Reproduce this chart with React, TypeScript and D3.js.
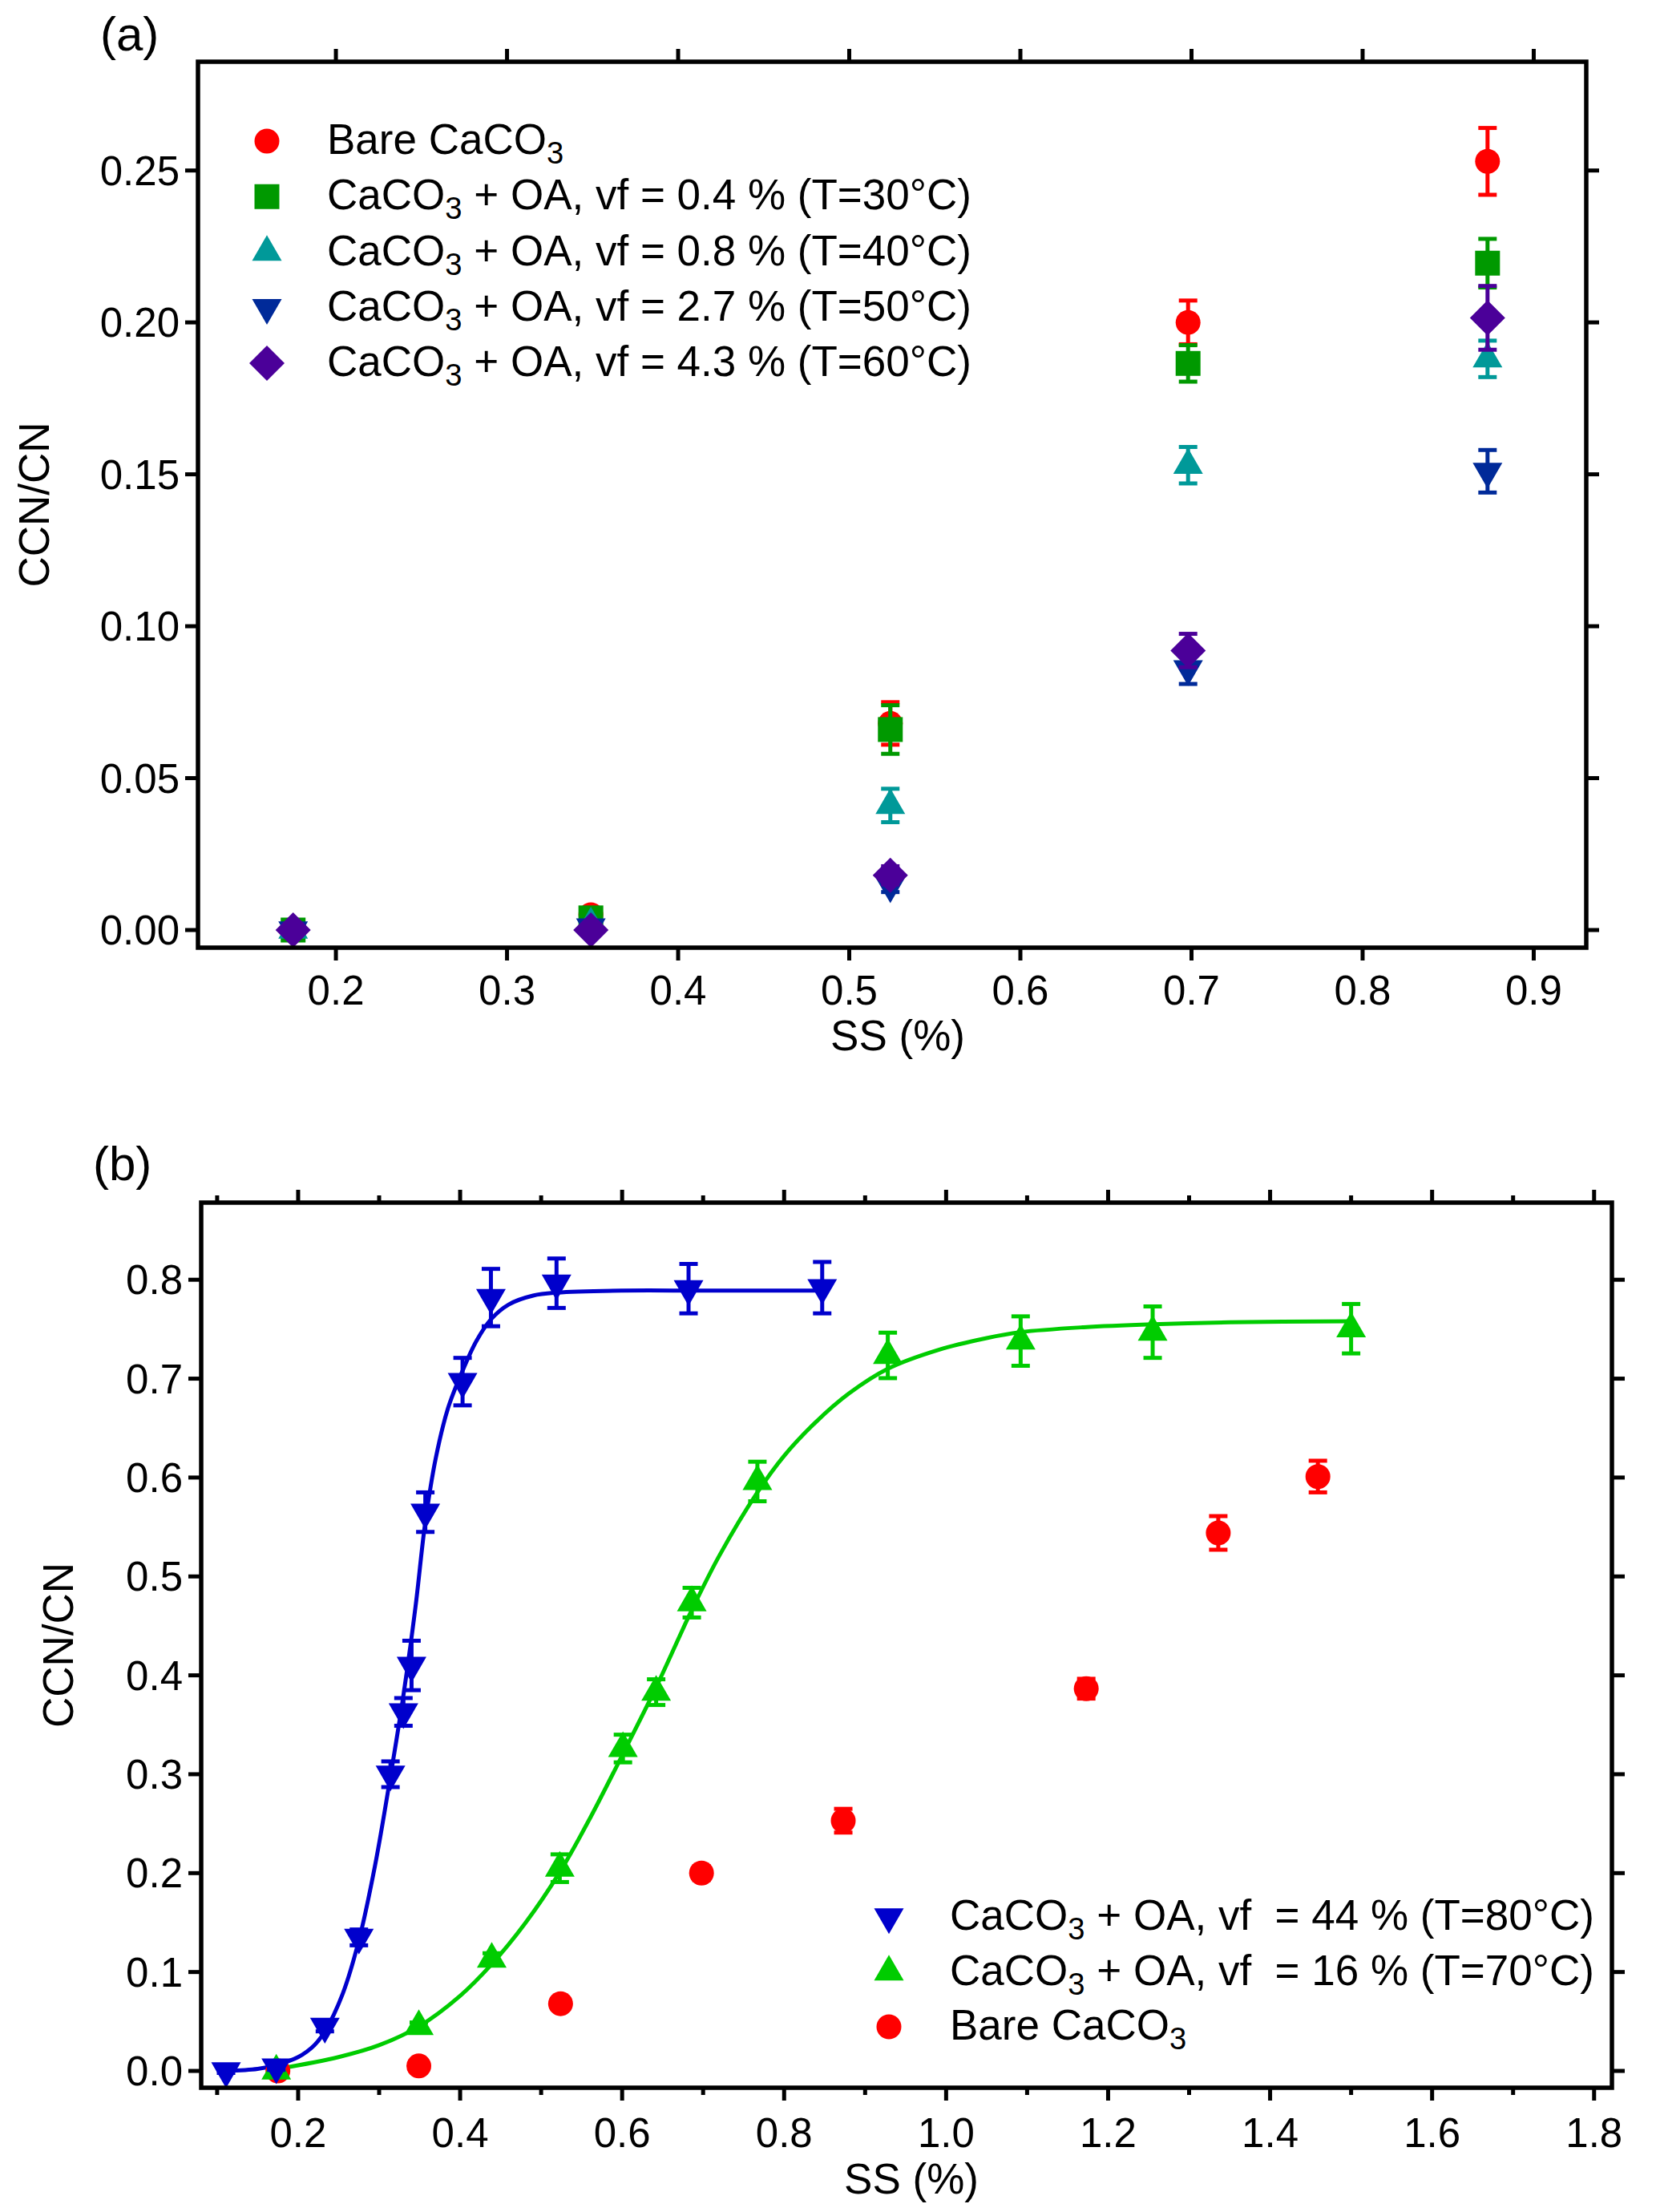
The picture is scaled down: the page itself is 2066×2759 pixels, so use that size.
import React from "react";
import * as d3 from "d3";

// ---------- Panel (a) data ----------
const ssA = [0.175, 0.349, 0.524, 0.698, 0.873];
const bareA = [0.0, 0.005, 0.068, 0.2, 0.253];
const bareAErr = [0.001, 0.001, 0.007, 0.0072, 0.011];
const oa04 = [0.0, 0.004, 0.066, 0.1865, 0.2195];
const oa04Err = [0.001, 0.001, 0.008, 0.006, 0.008];
const oa08 = [0.0, 0.002, 0.041, 0.153, 0.188];
const oa08Err = [0.001, 0.001, 0.0055, 0.006, 0.006];
const oa27 = [0.0, 0.001, 0.0145, 0.086, 0.151];
const oa27Err = [0.001, 0.001, 0.002, 0.005, 0.007];
const oa43 = [0.0, 0.0, 0.018, 0.092, 0.2015];
const oa43Err = [0.001, 0.001, 0.003, 0.0055, 0.0105];

const xTicksA = [0.2, 0.3, 0.4, 0.5, 0.6, 0.7, 0.8, 0.9];
const yTicksA = [0.0, 0.05, 0.1, 0.15, 0.2, 0.25];

// ---------- Panel (b) data ----------
const ss44 = [0.111, 0.173, 0.233, 0.275, 0.314, 0.33, 0.34, 0.357, 0.403, 0.438, 0.519, 0.682, 0.847];
const oa44 = [0.0, 0.004, 0.045, 0.135, 0.3, 0.363, 0.41, 0.565, 0.697, 0.782, 0.7965, 0.791, 0.792];
const oa44Err = [0.002, 0.003, 0.005, 0.008, 0.013, 0.014, 0.025, 0.02, 0.024, 0.029, 0.025, 0.025, 0.026];

const ss16 = [0.173, 0.349, 0.439, 0.523, 0.601, 0.642, 0.686, 0.767, 0.928, 1.092, 1.255, 1.5];
const oa16 = [0.0, 0.045, 0.113, 0.205, 0.326, 0.383, 0.4735, 0.596, 0.7235, 0.738, 0.747, 0.7505];
const oa16Err = [0.002, 0.004, 0.006, 0.014, 0.014, 0.013, 0.015, 0.02, 0.023, 0.025, 0.026, 0.025];

const ssBareB = [0.175, 0.349, 0.524, 0.698, 0.873, 1.173, 1.336, 1.459];
const bareB = [0.0, 0.005, 0.068, 0.2, 0.253, 0.3865, 0.544, 0.601];
const bareBErr = [0.001, 0.001, 0.004, 0.007, 0.012, 0.01, 0.017, 0.016];

// fitted curves
const fit44X = [0.111, 0.15, 0.173, 0.2, 0.22, 0.233, 0.255, 0.275, 0.295, 0.314, 0.33, 0.345, 0.357, 0.37, 0.385, 0.403, 0.42, 0.438, 0.46, 0.49, 0.52, 0.6, 0.7, 0.847];
const fit44Y = [0.0, 0.002, 0.006, 0.014, 0.026, 0.04, 0.078, 0.132, 0.208, 0.298, 0.38, 0.47, 0.555, 0.62, 0.67, 0.708, 0.738, 0.76, 0.775, 0.784, 0.787, 0.789, 0.789, 0.789];
const fit16X = [0.175, 0.25, 0.3, 0.349, 0.4, 0.439, 0.48, 0.523, 0.56, 0.6, 0.642, 0.686, 0.72, 0.767, 0.8, 0.839, 0.88, 0.928, 0.99, 1.05, 1.092, 1.17, 1.255, 1.35, 1.5];
const fit16Y = [0.002, 0.014, 0.026, 0.045, 0.076, 0.108, 0.149, 0.201, 0.255, 0.319, 0.388, 0.466, 0.521, 0.585, 0.622, 0.656, 0.685, 0.71, 0.729, 0.741, 0.747, 0.752, 0.755, 0.757, 0.758];

const xTicksB = [0.2, 0.4, 0.6, 0.8, 1.0, 1.2, 1.4, 1.6, 1.8];
const xMinorB = [0.1, 0.3, 0.5, 0.7, 0.9, 1.1, 1.3, 1.5, 1.7];
const yTicksB = [0.0, 0.1, 0.2, 0.3, 0.4, 0.5, 0.6, 0.7, 0.8];

const FONT = "'Liberation Sans', Arial, Helvetica, sans-serif";

type Shape = "circle" | "square" | "up" | "down" | "diamond";

function Marker({ shape, x, y, color }: { shape: Shape; x: number; y: number; color: string }) {
  const s = 37;
  const h = (s * Math.sqrt(3)) / 2;
  if (shape === "circle") return <circle cx={x} cy={y} r={15.5} fill={color} />;
  if (shape === "square") return <rect x={x - 15.5} y={y - 15.5} width={31} height={31} fill={color} />;
  let pts: [number, number][] = [];
  if (shape === "up") pts = [[0, (-2 * h) / 3], [s / 2, h / 3], [-s / 2, h / 3]];
  if (shape === "down") pts = [[0, (2 * h) / 3], [s / 2, -h / 3], [-s / 2, -h / 3]];
  if (shape === "diamond") pts = [[0, -22], [22, 0], [0, 22], [-22, 0]];
  return <polygon points={pts.map((p) => `${x + p[0]},${y + p[1]}`).join(" ")} fill={color} />;
}

interface Series {
  xs: number[];
  ys: number[];
  err: number[];
  color: string;
  shape: Shape;
}

function SeriesMarks({ s, xs, ys }: { s: Series; xs: d3.ScaleLinear<number, number>; ys: d3.ScaleLinear<number, number> }) {
  return (
    <g>
      {s.xs.map((xv, i) => {
        const cx = xs(xv);
        const y1 = ys(s.ys[i] + s.err[i]);
        const y2 = ys(s.ys[i] - s.err[i]);
        return (
          <g key={"e" + i} stroke={s.color} strokeWidth={5}>
            <line x1={cx} x2={cx} y1={y1} y2={y2} />
            <line x1={cx - 11.5} x2={cx + 11.5} y1={y1} y2={y1} />
            <line x1={cx - 11.5} x2={cx + 11.5} y1={y2} y2={y2} />
          </g>
        );
      })}
      {s.xs.map((xv, i) => (
        <Marker key={"m" + i} shape={s.shape} x={xs(xv)} y={ys(s.ys[i])} color={s.color} />
      ))}
    </g>
  );
}

function Frame({
  xs, ys, xMajor, xMinor, yMajor, xFmt, yFmt, xLabelBase, yLabelRight,
}: {
  xs: d3.ScaleLinear<number, number>;
  ys: d3.ScaleLinear<number, number>;
  xMajor: number[];
  xMinor: number[];
  yMajor: number[];
  xFmt: (v: number) => string;
  yFmt: (v: number) => string;
  xLabelBase: number;
  yLabelRight: number;
}) {
  const [x0, x1] = xs.range();
  const [y0, y1] = ys.range(); // y0 bottom, y1 top
  const L = 16;
  const Lm = 9;
  return (
    <g stroke="#000" strokeWidth={5}>
      <rect x={x0} y={y1} width={x1 - x0} height={y0 - y1} fill="none" strokeWidth={5.5} />
      {xMajor.map((v) => (
        <g key={"xM" + v}>
          <line x1={xs(v)} x2={xs(v)} y1={y0} y2={y0 + L} />
          <line x1={xs(v)} x2={xs(v)} y1={y1} y2={y1 - L} />
        </g>
      ))}
      {xMinor.map((v) => (
        <g key={"xm" + v}>
          <line x1={xs(v)} x2={xs(v)} y1={y0} y2={y0 + Lm} />
          <line x1={xs(v)} x2={xs(v)} y1={y1} y2={y1 - Lm} />
        </g>
      ))}
      {yMajor.map((v) => (
        <g key={"yM" + v}>
          <line x1={x0} x2={x0 - L} y1={ys(v)} y2={ys(v)} />
          <line x1={x1} x2={x1 + L} y1={ys(v)} y2={ys(v)} />
        </g>
      ))}
      <g stroke="none" fill="#000" fontFamily={FONT} fontSize={51}>
        {xMajor.map((v) => (
          <text key={"xl" + v} x={xs(v)} y={xLabelBase} textAnchor="middle">
            {xFmt(v)}
          </text>
        ))}
        {yMajor.map((v) => (
          <text key={"yl" + v} x={yLabelRight} y={ys(v) + 18} textAnchor="end">
            {yFmt(v)}
          </text>
        ))}
      </g>
    </g>
  );
}

function CaCO3({ rest }: { rest: string }) {
  return (
    <>
      <tspan>CaCO</tspan>
      <tspan fontSize="0.72em" dy={12}>3</tspan>
      <tspan dy={-12}>{rest}</tspan>
    </>
  );
}

export default function App() {
  // Panel (a)
  const xa = d3.scaleLinear().domain([0.1194, 0.9307]).range([247, 1979]);
  const ya = d3.scaleLinear().domain([-0.0058, 0.2858]).range([1182, 77]);
  const seriesA: Series[] = [
    { xs: ssA, ys: bareA, err: bareAErr, color: "#FF0000", shape: "circle" },
    { xs: ssA, ys: oa04, err: oa04Err, color: "#009900", shape: "square" },
    { xs: ssA, ys: oa08, err: oa08Err, color: "#009999", shape: "up" },
    { xs: ssA, ys: oa27, err: oa27Err, color: "#002A99", shape: "down" },
    { xs: ssA, ys: oa43, err: oa43Err, color: "#4B0099", shape: "diamond" },
  ];
  const legendA: { shape: Shape; color: string; label: React.ReactNode }[] = [
    { shape: "circle", color: "#FF0000", label: <><tspan>Bare CaCO</tspan><tspan fontSize="0.72em" dy={12}>3</tspan></> },
    { shape: "square", color: "#009900", label: <CaCO3 rest=" + OA, vf = 0.4 % (T=30°C)" /> },
    { shape: "up", color: "#009999", label: <CaCO3 rest=" + OA, vf = 0.8 % (T=40°C)" /> },
    { shape: "down", color: "#002A99", label: <CaCO3 rest=" + OA, vf = 2.7 % (T=50°C)" /> },
    { shape: "diamond", color: "#4B0099", label: <CaCO3 rest=" + OA, vf = 4.3 % (T=60°C)" /> },
  ];

  // Panel (b)
  const xb = d3.scaleLinear().domain([0.0803, 1.822]).range([251, 2011]);
  const yb = d3.scaleLinear().domain([-0.017, 0.878]).range([2604, 1500]);
  const seriesB: Series[] = [
    { xs: ssBareB, ys: bareB, err: bareBErr, color: "#FF0000", shape: "circle" },
    { xs: ss16, ys: oa16, err: oa16Err, color: "#00CC00", shape: "up" },
    { xs: ss44, ys: oa44, err: oa44Err, color: "#0000CC", shape: "down" },
  ];
  const lineB = d3
    .line<[number, number]>()
    .x((d) => xb(d[0]))
    .y((d) => yb(d[1]))
    .curve(d3.curveCatmullRom.alpha(0.5));
  const fit44 = fit44X.map((x, i) => [x, fit44Y[i]] as [number, number]);
  const fit16 = fit16X.map((x, i) => [x, fit16Y[i]] as [number, number]);
  const legendB: { shape: Shape; color: string; label: React.ReactNode }[] = [
    { shape: "down", color: "#0000CC", label: <CaCO3 rest=" + OA, vf  = 44 % (T=80°C)" /> },
    { shape: "up", color: "#00CC00", label: <CaCO3 rest=" + OA, vf  = 16 % (T=70°C)" /> },
    { shape: "circle", color: "#FF0000", label: <><tspan>Bare CaCO</tspan><tspan fontSize="0.72em" dy={12}>3</tspan></> },
  ];

  const f2 = d3.format(".2f");
  const f1 = d3.format(".1f");

  return (
    <svg
      width={2066}
      height={2759}
      viewBox="0 0 2066 2759"
      style={{ position: "absolute", left: 0, top: 0, background: "#fff" }}
      xmlns="http://www.w3.org/2000/svg"
    >
      <rect x={0} y={0} width={2066} height={2759} fill="#fff" />

      {/* ---------- Panel (a) ---------- */}
      <text x={125} y={63} fontFamily={FONT} fontSize={60}>(a)</text>
      {seriesA.map((s, i) => (
        <SeriesMarks key={"sa" + i} s={s} xs={xa} ys={ya} />
      ))}
      <Frame
        xs={xa}
        ys={ya}
        xMajor={xTicksA}
        xMinor={[]}
        yMajor={yTicksA}
        xFmt={f1}
        yFmt={f2}
        xLabelBase={1253}
        yLabelRight={224}
      />
      <text x={1120} y={1310} fontFamily={FONT} fontSize={53} textAnchor="middle">SS (%)</text>
      <text transform="translate(61,629.5) rotate(-90)" fontFamily={FONT} fontSize={53} textAnchor="middle">CCN/CN</text>
      {legendA.map((l, i) => {
        const base = 192 + i * 69.25;
        return (
          <g key={"la" + i}>
            <Marker shape={l.shape} x={333} y={base - 16} color={l.color} />
            <text x={408} y={base} fontFamily={FONT} fontSize={53} style={{ whiteSpace: "pre" }}>
              {l.label}
            </text>
          </g>
        );
      })}

      {/* ---------- Panel (b) ---------- */}
      <text x={116} y={1472} fontFamily={FONT} fontSize={60}>(b)</text>
      <path d={lineB(fit16) || ""} fill="none" stroke="#00CC00" strokeWidth={5} />
      <path d={lineB(fit44) || ""} fill="none" stroke="#0000CC" strokeWidth={5} />
      {seriesB.map((s, i) => (
        <SeriesMarks key={"sb" + i} s={s} xs={xb} ys={yb} />
      ))}
      <Frame
        xs={xb}
        ys={yb}
        xMajor={xTicksB}
        xMinor={xMinorB}
        yMajor={yTicksB}
        xFmt={f1}
        yFmt={f1}
        xLabelBase={2678}
        yLabelRight={228}
      />
      <text x={1137} y={2736} fontFamily={FONT} fontSize={53} textAnchor="middle">SS (%)</text>
      <text transform="translate(91,2052) rotate(-90)" fontFamily={FONT} fontSize={53} textAnchor="middle">CCN/CN</text>
      {legendB.map((l, i) => {
        const base = 2407 + i * 68.5;
        return (
          <g key={"lb" + i}>
            <Marker shape={l.shape} x={1109} y={base - 16} color={l.color} />
            <text x={1185} y={base} fontFamily={FONT} fontSize={53} style={{ whiteSpace: "pre" }}>
              {l.label}
            </text>
          </g>
        );
      })}
    </svg>
  );
}
